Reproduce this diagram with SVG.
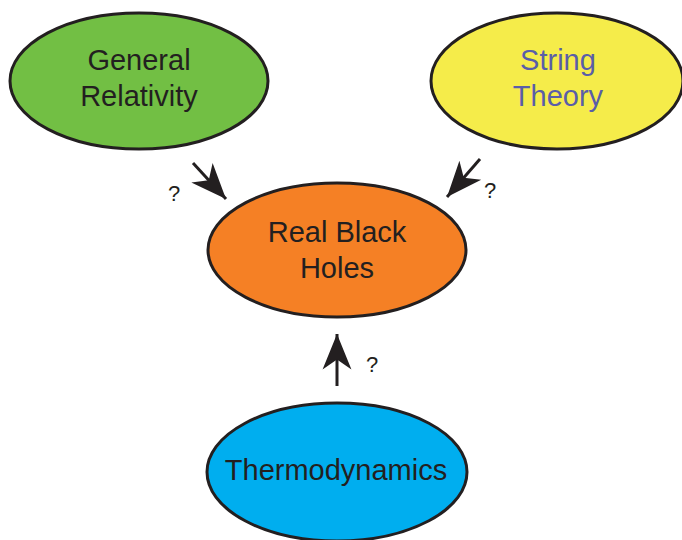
<svg xmlns="http://www.w3.org/2000/svg" width="682" height="540" viewBox="0 0 682 540">
<style>
.node ellipse{stroke:#231f20;stroke-width:3}
.lbl{font-family:"Liberation Sans",Arial,sans-serif;font-size:29px;text-anchor:middle;fill:#231f20}
.q{font-family:"Liberation Sans",Arial,sans-serif;font-size:22px;fill:#231f20}
.conn line{stroke:#231f20;stroke-width:3}
</style>
<defs>
<marker id="ah" markerUnits="userSpaceOnUse" markerWidth="40" markerHeight="40" viewBox="-34 -16 36 32" refX="0" refY="0" orient="auto">
<path d="M0,0 L-32,-13 L-23,0 L-32,13 Z" fill="#231f20"/>
</marker>
</defs>
<rect width="682" height="540" fill="#fff"/>
<g id="general-relativity" class="node">
<ellipse cx="139" cy="81" rx="129" ry="68" fill="#72bf44"/>
<text class="lbl" x="139" y="70">General</text>
<text class="lbl" x="139" y="106">Relativity</text>
</g>
<g id="string-theory" class="node">
<ellipse cx="557" cy="81" rx="126" ry="68" fill="#f5ec4a"/>
<text class="lbl" x="558" y="70" style="fill:#5a5ea8">String</text>
<text class="lbl" x="558" y="106" style="fill:#5a5ea8">Theory</text>
</g>
<g id="real-black-holes" class="node">
<ellipse cx="337" cy="250" rx="129" ry="67" fill="#f58025"/>
<text class="lbl" x="337" y="242">Real Black</text>
<text class="lbl" x="337" y="278">Holes</text>
</g>
<g id="thermodynamics" class="node">
<ellipse cx="337" cy="472" rx="130" ry="69" fill="#00aeef"/>
<text class="lbl" x="336" y="480">Thermodynamics</text>
</g>
<g id="connectors" class="conn">
<line x1="193" y1="163" x2="226" y2="199" marker-end="url(#ah)"/>
<line x1="480" y1="159" x2="447" y2="197" marker-end="url(#ah)"/>
<line x1="337" y1="386" x2="337" y2="334" marker-end="url(#ah)"/>
</g>
<g id="labels">
<text class="q" x="168" y="201">?</text>
<text class="q" x="484" y="198">?</text>
<text class="q" x="366" y="372">?</text>
</g>
</svg>
